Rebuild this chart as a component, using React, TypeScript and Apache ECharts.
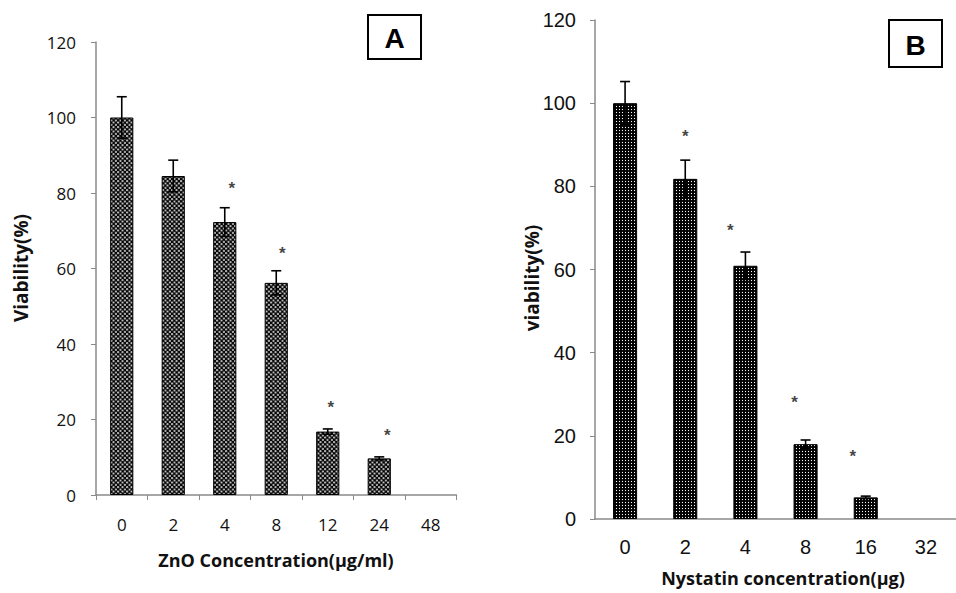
import React, { useEffect, useRef } from "react";
import * as echarts from "echarts";

const catsA = ["0", "2", "4", "8", "12", "24", "48"];
const valsA = [100, 84.5, 72.3, 56.2, 16.8, 9.7, 0];
const errA = [5.5, 4.2, 3.8, 3.2, 0.7, 0.4, 0];
const starA: (number | null)[] = [null, null, 82.5, 65.2, 24.4, 17, null];
const starDxA = [0, 0, 7, 6, 3, 8, 0];

const catsB = ["0", "2", "4", "8", "16", "32"];
const valsB = [100, 81.8, 60.9, 18, 5.2, 0];
const errB = [5.2, 4.5, 3.3, 1, 0.3, 0];
const starB: (number | null)[] = [null, 93.3, 70.7, 29.2, 16.2, null];
const starDxB = [0, 0, -15, -11, -13, 0];

const yTicks = [0, 20, 40, 60, 80, 100, 120];

function makeTile(size: number, dots: number[][]) {
  const c = document.createElement("canvas");
  c.width = size;
  c.height = size;
  const ctx = c.getContext("2d")!;
  ctx.fillStyle = "#000";
  ctx.fillRect(0, 0, size, size);
  ctx.fillStyle = "#fff";
  for (const [x, y, r] of dots) {
    for (const dx of [-size, 0, size]) {
      for (const dy of [-size, 0, size]) {
        ctx.beginPath();
        ctx.arc(x + dx, y + dy, r, 0, Math.PI * 2);
        ctx.fill();
      }
    }
  }
  return c;
}

function errorSeries(xi: number, vals: number[], errs: number[], cap: number) {
  return {
    type: "custom",
    xAxisIndex: xi,
    yAxisIndex: xi,
    z: 5,
    data: vals.map((v, i) => [i, v, errs[i]]),
    renderItem: (params: any, api: any) => {
      const i = api.value(0);
      const v = api.value(1);
      const e = api.value(2);
      if (!e) return null;
      const top = api.coord([i, v + e]);
      const bot = api.coord([i, v - e]);
      const st = { stroke: "#000", lineWidth: 1.6 };
      return {
        type: "group",
        children: [
          { type: "line", shape: { x1: top[0], y1: top[1], x2: bot[0], y2: bot[1] }, style: st },
          { type: "line", shape: { x1: top[0] - cap / 2, y1: top[1], x2: top[0] + cap / 2, y2: top[1] }, style: st },
          { type: "line", shape: { x1: bot[0] - cap / 2, y1: bot[1], x2: bot[0] + cap / 2, y2: bot[1] }, style: st },
        ],
      };
    },
  };
}

function starSeries(xi: number, stars: (number | null)[], dxs: number[]) {
  return {
    type: "scatter",
    xAxisIndex: xi,
    yAxisIndex: xi,
    symbolSize: 1,
    itemStyle: { color: "rgba(0,0,0,0)" },
    z: 6,
    data: stars
      .map((s, i) =>
        s == null
          ? null
          : {
              value: [i, s],
              label: {
                show: true,
                formatter: "*",
                position: "inside",
                offset: [dxs[i], 5],
                color: "#111",
                fontSize: 17,
                fontWeight: "bold",
                fontFamily: "Liberation Sans",
              },
            }
      )
      .filter((d) => d != null),
  };
}

function barData(vals: number[]) {
  return vals.map((v) => (v === 0 ? { value: v, itemStyle: { borderWidth: 0, opacity: 0 } } : v));
}

export default function App() {
  const ref = useRef<HTMLDivElement>(null);
  useEffect(() => {
    if (!ref.current) return;
    const chart = echarts.init(ref.current, null, { renderer: "svg" });
    const tileA = makeTile(9, [
      [2.25, 2.25, 2.0],
      [6.75, 6.75, 2.0],
    ]);
    const tileB = makeTile(6, [[3, 3, 1.2]]);
    const patA = { image: tileA, repeat: "repeat", imageWidth: 9, imageHeight: 9, scaleX: 0.5, scaleY: 0.5 };
    const patB = { image: tileB, repeat: "repeat", imageWidth: 6, imageHeight: 6, scaleX: 0.5, scaleY: 0.5 };
    const axisGray = "#8a8a8a";
    const fontA = "Open Sans";
    const fontB = "Liberation Sans";
    const titleStyle = (text: string, x: number, y: number, size: number, rot = 0) => ({
      type: "text",
      x,
      y,
      rotation: rot,
      style: {
        text,
        fill: "#111",
        font: `bold ${size}px 'Open Sans'`,
        textAlign: "center",
        textVerticalAlign: "middle",
      },
    });
    chart.setOption({
      animation: false,
      backgroundColor: "#fff",
      grid: [
        { left: 96, top: 42, width: 360.5, height: 453 },
        { left: 595, top: 20, width: 374, height: 499 },
      ],
      xAxis: [
        {
          type: "category",
          gridIndex: 0,
          data: catsA,
          axisLine: { lineStyle: { color: axisGray, width: 1.5 } },
          axisTick: { show: true, length: 5, lineStyle: { color: axisGray } },
          axisLabel: { color: "#111", fontSize: 17, fontFamily: fontA, margin: 21 },
        },
        {
          type: "category",
          gridIndex: 1,
          data: catsB,
          axisLine: { lineStyle: { color: axisGray, width: 1.5 } },
          axisTick: { show: false },
          axisLabel: { color: "#111", fontSize: 20, fontFamily: fontB, margin: 18 },
        },
      ],
      yAxis: [
        {
          type: "value",
          gridIndex: 0,
          min: yTicks[0],
          max: yTicks[yTicks.length - 1],
          interval: 20,
          splitLine: { show: false },
          axisLine: { show: true, lineStyle: { color: axisGray, width: 1.5 } },
          axisTick: { show: true, length: 5, lineStyle: { color: axisGray } },
          axisLabel: { color: "#111", fontSize: 17, fontFamily: fontA, margin: 20 },
        },
        {
          type: "value",
          gridIndex: 1,
          min: yTicks[0],
          max: yTicks[yTicks.length - 1],
          interval: 20,
          splitLine: { show: false },
          axisLine: { show: true, lineStyle: { color: axisGray, width: 1.5 } },
          axisTick: { show: true, length: 5, lineStyle: { color: axisGray } },
          axisLabel: { color: "#111", fontSize: 20, fontFamily: fontB, margin: 19 },
        },
      ],
      series: [
        {
          type: "bar",
          xAxisIndex: 0,
          yAxisIndex: 0,
          data: barData(valsA),
          barWidth: "45%",
          itemStyle: { color: patA, borderColor: "#000", borderWidth: 1 },
        },
        {
          type: "bar",
          xAxisIndex: 1,
          yAxisIndex: 1,
          data: barData(valsB),
          barWidth: "40%",
          itemStyle: { color: patB, borderColor: "#000", borderWidth: 1 },
        },
        errorSeries(0, valsA, errA, 10),
        errorSeries(1, valsB, errB, 10),
        starSeries(0, starA, starDxA),
        starSeries(1, starB, starDxB),
      ],
      graphic: [
        titleStyle("Viability(%)", 21, 268, 19, Math.PI / 2),
        titleStyle("ZnO Concentration(µg/ml)", 276, 560, 18),
        titleStyle("viability(%)", 532, 278, 19, Math.PI / 2),
        titleStyle("Nystatin concentration(µg)", 783, 578, 18),
        {
          type: "rect",
          shape: { x: 368, y: 15, width: 53, height: 44 },
          style: { fill: "#fff", stroke: "#000", lineWidth: 2 },
        },
        {
          type: "text",
          x: 394.5,
          y: 38,
          style: { text: "A", font: "bold 28px 'Liberation Sans'", fill: "#000", textAlign: "center", textVerticalAlign: "middle" },
        },
        {
          type: "rect",
          shape: { x: 889, y: 20, width: 53, height: 47 },
          style: { fill: "#fff", stroke: "#000", lineWidth: 2 },
        },
        {
          type: "text",
          x: 915.5,
          y: 45,
          style: { text: "B", font: "bold 28px 'Liberation Sans'", fill: "#000", textAlign: "center", textVerticalAlign: "middle" },
        },
      ],
    });
    return () => chart.dispose();
  }, []);
  return <div ref={ref} style={{ position: "absolute", left: 0, top: 0, width: 956, height: 593 }} />;
}
